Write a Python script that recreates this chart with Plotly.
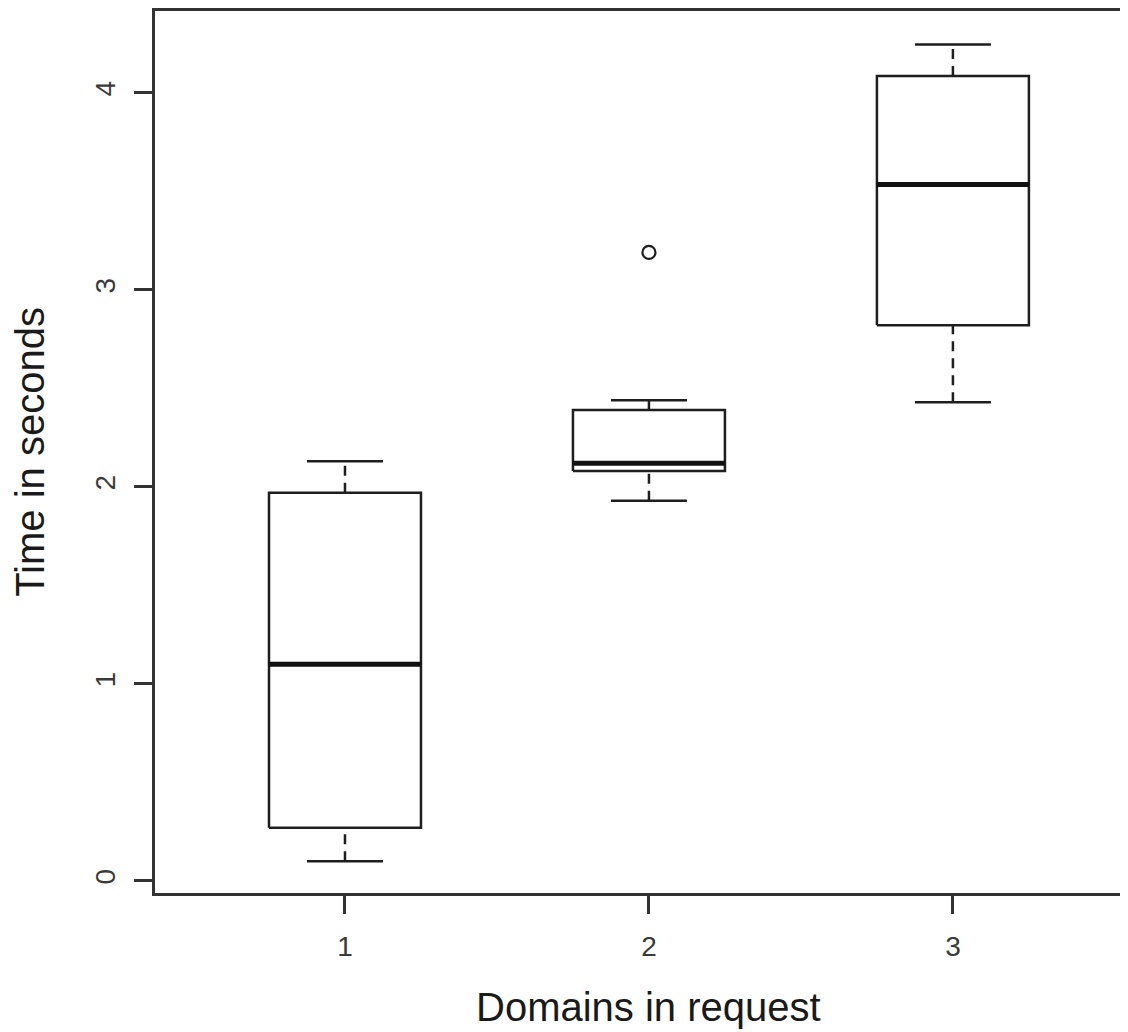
import plotly.graph_objects as go

categories = [1, 2, 3]
lower_whisker = [0.10, 1.93, 2.43]
q1 = [0.27, 2.08, 2.82]
median = [1.10, 2.12, 3.535]
q3 = [1.97, 2.39, 4.085]
upper_whisker = [2.13, 2.44, 4.245]
outlier_x = [2]
outlier_y = [3.19]

y_ticks = [0, 1, 2, 3, 4]
x_tick_labels = ["1", "2", "3"]

BOX_HALF = 0.25
CAP_HALF = 0.125
LINE = "#1e1e1e"
LW = 2.5

fig = go.Figure()

for c, lo, a, m, b, hi in zip(categories, lower_whisker, q1, median, q3, upper_whisker):
    # whiskers (dashed)
    fig.add_trace(go.Scatter(x=[c, c], y=[b, hi], mode="lines",
                             line=dict(color=LINE, width=LW, dash="10px,7px"),
                             showlegend=False, hoverinfo="skip"))
    fig.add_trace(go.Scatter(x=[c, c], y=[lo, a], mode="lines",
                             line=dict(color=LINE, width=LW, dash="10px,7px"),
                             showlegend=False, hoverinfo="skip"))
    # caps
    for v in (lo, hi):
        fig.add_trace(go.Scatter(x=[c - CAP_HALF, c + CAP_HALF], y=[v, v], mode="lines",
                                 line=dict(color=LINE, width=LW),
                                 showlegend=False, hoverinfo="skip"))
    # box
    fig.add_trace(go.Scatter(x=[c - BOX_HALF, c + BOX_HALF, c + BOX_HALF, c - BOX_HALF, c - BOX_HALF],
                             y=[a, a, b, b, a], mode="lines",
                             line=dict(color=LINE, width=LW),
                             showlegend=False, hoverinfo="skip"))
    # median
    fig.add_trace(go.Scatter(x=[c - BOX_HALF, c + BOX_HALF], y=[m, m], mode="lines",
                             line=dict(color="#111111", width=5),
                             showlegend=False, hoverinfo="skip"))

fig.add_trace(go.Scatter(x=outlier_x, y=outlier_y, mode="markers",
                         marker=dict(symbol="circle-open", size=13, color=LINE,
                                     line=dict(width=2.2, color=LINE)),
                         showlegend=False, hoverinfo="skip"))

fig.add_annotation(text="Domains in request", x=2.0, xref="x", y=0, yref="paper",
                   yanchor="middle", xanchor="center", yshift=-114, showarrow=False,
                   font=dict(size=40, color="#1a1a1a"))

fig.update_layout(
    width=1120, height=1024,
    margin=dict(l=147, r=0, t=0, b=139),
    paper_bgcolor="white", plot_bgcolor="white",
    font=dict(family="Liberation Sans, Arial, sans-serif", color="#222222"),
    xaxis=dict(
        range=[0.375, 3.576],
        tickmode="array", tickvals=categories, ticktext=x_tick_labels,
        showgrid=False, zeroline=False,
        showline=True, mirror=True, linecolor="#333333", linewidth=2.5,
        ticks="outside", ticklen=18, tickwidth=2.5, tickcolor="#333333",
        tickfont=dict(size=28, color="#3a3a3a"),
        ticklabelstandoff=9,
    ),
    yaxis=dict(
        range=[-0.061, 4.415],
        tickmode="array", tickvals=y_ticks, ticktext=[str(t) for t in y_ticks],
        showgrid=False, zeroline=False,
        showline=True, mirror=False, linecolor="#333333", linewidth=2.5,
        ticks="outside", ticklen=18, tickwidth=2.5, tickcolor="#333333",
        tickfont=dict(size=28, color="#3a3a3a"),
        tickangle=-90,
        ticklabelstandoff=8,
        title=dict(text="Time in seconds", font=dict(size=40, color="#1a1a1a"), standoff=37),
    ),
)

fig.write_html("out.html")
